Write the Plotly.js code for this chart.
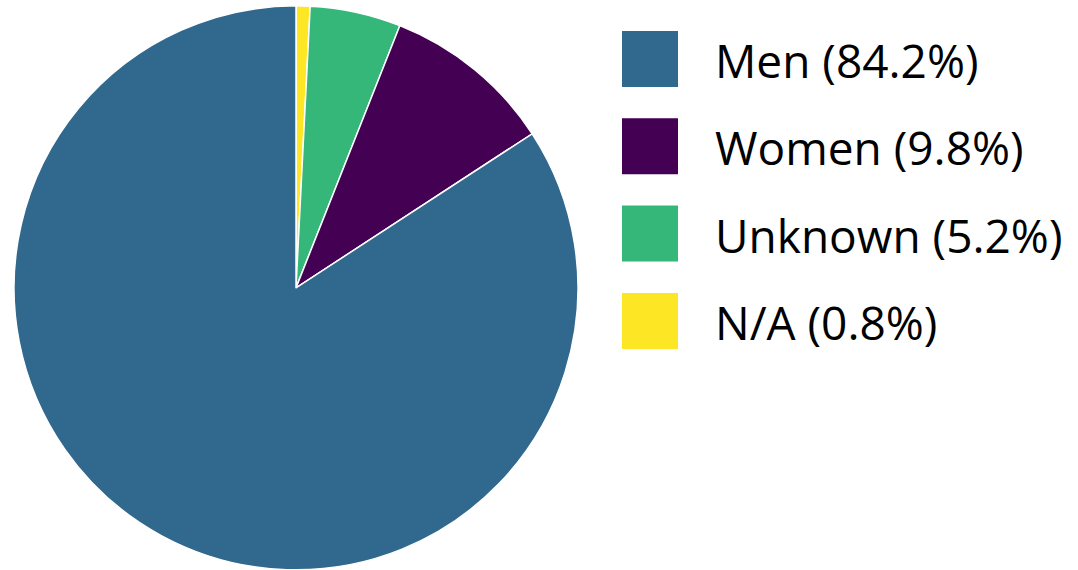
<!DOCTYPE html>
<html>
<head>
<meta charset="utf-8">
<script src="https://cdn.plot.ly/plotly-3.0.1.min.js"></script>
<style>html,body{margin:0;padding:0;background:#fff;}#chart{width:1078px;height:570px;}</style>
</head>
<body>
<div id="chart"></div>
<script>
// Data (pie drawn clockwise from top in this order)
const labels = ["N/A", "Unknown", "Women", "Men"];
const values = [0.8, 5.2, 9.8, 84.2];
const colors = ["#fde725", "#35b779", "#440154", "#31688e"];
// Legend order (top to bottom)
const legendOrder = ["Men", "Women", "Unknown", "N/A"];

const W = 1078, H = 570;
const shapes = [];
const annotations = [];
const sq = 56, sqLeft = 622, firstCenter = 59, step = 87.3, textLeft = 713;
legendOrder.forEach((lab, i) => {
  const k = labels.indexOf(lab);
  const cy = firstCenter + i * step;
  shapes.push({
    type: "rect", xref: "paper", yref: "paper",
    x0: sqLeft / W, x1: (sqLeft + sq) / W,
    y0: 1 - (cy + sq / 2) / H, y1: 1 - (cy - sq / 2) / H,
    fillcolor: colors[k], line: {width: 0}
  });
  annotations.push({
    xref: "paper", yref: "paper", x: textLeft / W, y: 1 - (cy + 1) / H,
    xanchor: "left", yanchor: "middle", showarrow: false,
    text: lab + " (" + values[k].toFixed(1) + "%)",
    font: {family: "'Open Sans', Lato, sans-serif", size: 46, color: "#000"}
  });
});

const trace = {
  type: "pie",
  labels: labels,
  values: values,
  sort: false,
  direction: "clockwise",
  rotation: 0,
  textinfo: "none",
  hoverinfo: "label+percent",
  marker: {colors: colors, line: {color: "#ffffff", width: 1.5}},
  domain: {x: [14 / W, 578 / W], y: [0, 0.99]},
  showlegend: false
};

Plotly.newPlot("chart", [trace], {
  width: W, height: H,
  margin: {l: 0, r: 0, t: 0, b: 0},
  paper_bgcolor: "#fff",
  showlegend: false,
  shapes: shapes,
  annotations: annotations
}, {displayModeBar: false, staticPlot: true});
</script>
</body>
</html>
